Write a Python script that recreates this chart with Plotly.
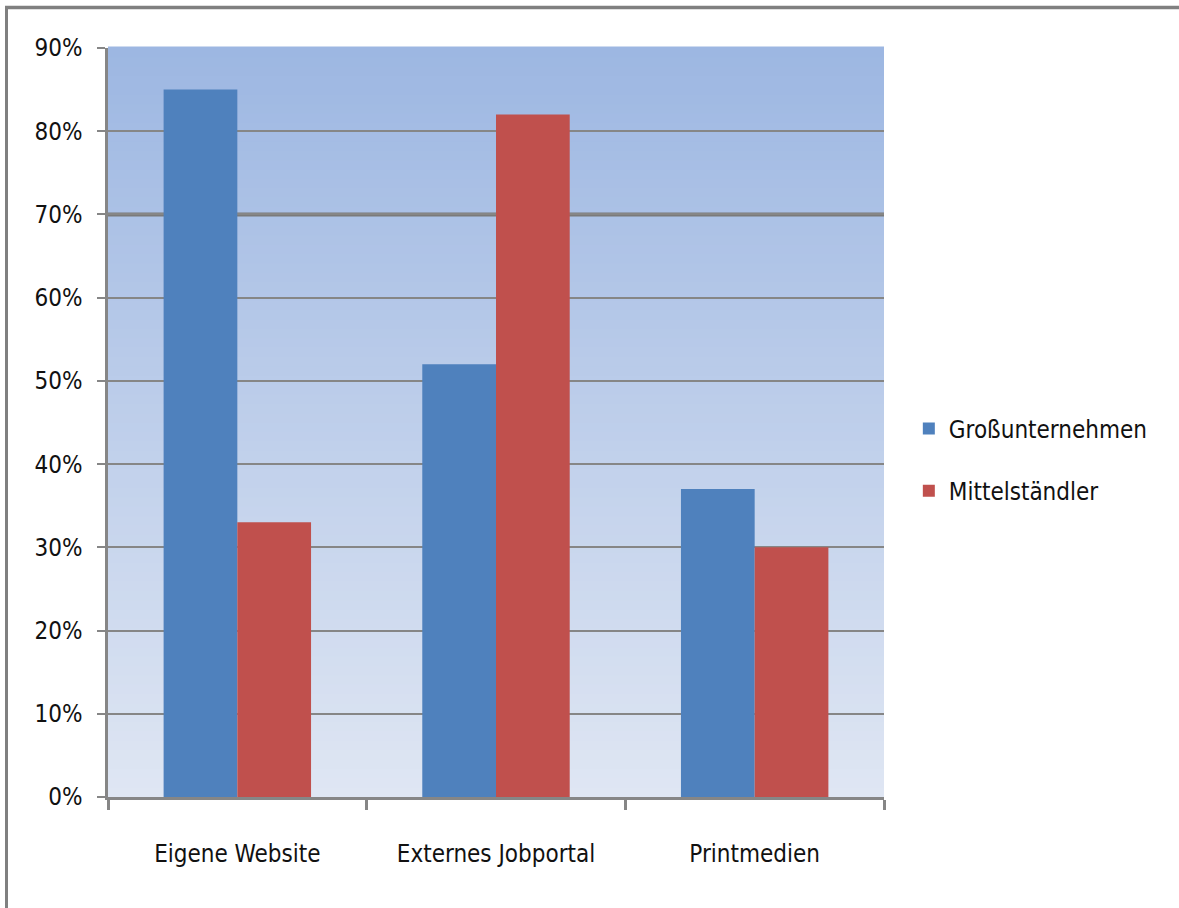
import plotly.graph_objects as go

categories = ["Eigene Website", "Externes Jobportal", "Printmedien"]
gross = [0.85, 0.52, 0.37]
mittel = [0.33, 0.82, 0.30]
series_names = ["Großunternehmen", "Mittelständler"]
tick_vals = [0, 0.1, 0.2, 0.3, 0.4, 0.5, 0.6, 0.7, 0.8, 0.9]
tick_text = ["0%", "10%", "20%", "30%", "40%", "50%", "60%", "70%", "80%", "90%"]

W, H = 1179, 908
ML, MR, MT, MB = 108, 295, 48, 111
PW, PH = W - ML - MR, H - MT - MB

FONT = "DejaVu Sans Condensed, Liberation Sans, sans-serif"
FS = 24
GRID = "#868686"

fig = go.Figure()
fig.add_trace(go.Bar(x=categories, y=gross, name=series_names[0], marker_color="#4F81BD",
                     marker_line_width=0, legendgroup="a"))
fig.add_trace(go.Bar(x=categories, y=mittel, name=series_names[1], marker_color="#C0504D",
                     marker_line_width=0, legendgroup="b"))

# vertical gradient background (top #9DB7E2 -> bottom #DFE6F3)
top = (157, 183, 226)
bot = (223, 230, 243)
N = 80
shapes = []
for i in range(N):
    t = i / (N - 1)
    c = tuple(round(bot[k] + (top[k] - bot[k]) * t) for k in range(3))
    shapes.append(dict(type="rect", xref="x domain", yref="y domain",
                       x0=0, x1=1, y0=i / N, y1=(i + 1) / N + 0.002,
                       fillcolor="rgb(%d,%d,%d)" % c, line_width=0, layer="below"))
# darker 70% gridline (under the regular grid)
shapes.append(dict(type="line", xref="x domain", yref="y", x0=0, x1=1, y0=0.7, y1=0.7,
                   line=dict(color="#7a7a7a", width=4), layer="below"))
# outer chart border (top and left)
shapes.append(dict(type="line", xref="paper", yref="paper",
                   x0=(5 - ML) / PW, x1=(W + 5 - ML) / PW,
                   y0=1 + (MT - 7.5) / PH, y1=1 + (MT - 7.5) / PH,
                   line=dict(color="#808080", width=3.5)))
shapes.append(dict(type="line", xref="paper", yref="paper",
                   x0=(6.5 - ML) / PW, x1=(6.5 - ML) / PW,
                   y0=-(MB + 5) / PH, y1=1 + (MT - 6) / PH,
                   line=dict(color="#808080", width=3)))

fig.update_layout(
    width=W, height=H,
    margin=dict(l=ML, r=MR, t=MT, b=MB),
    paper_bgcolor="white", plot_bgcolor="#DFE6F3",
    barmode="group", bargap=0.43, bargroupgap=0,
    font=dict(family=FONT, size=FS, color="#111111"),
    shapes=shapes,
    legend=dict(x=1.032, xanchor="left", xref="paper", y=0.45, yanchor="middle",
                font=dict(family=FONT, size=FS, color="#111111"),
                tracegroupgap=28, traceorder="grouped", bgcolor="rgba(0,0,0,0)",
                itemwidth=30),
    showlegend=True,
)
fig.update_yaxes(range=[0, 0.9], tickvals=tick_vals, ticktext=tick_text,
                 showgrid=True, gridcolor=GRID, gridwidth=2,
                 showline=True, linecolor=GRID, linewidth=2.5,
                 ticks="outside", ticklen=8, tickwidth=2, tickcolor=GRID,
                 zeroline=False, ticklabelstandoff=10, fixedrange=True)
fig.update_xaxes(showline=True, linecolor=GRID, linewidth=2.5,
                 ticks="outside", ticklen=10, tickwidth=2.5, tickcolor=GRID,
                 tickson="boundaries", showgrid=False, ticklabelstandoff=33)

fig.write_html("out.html")
